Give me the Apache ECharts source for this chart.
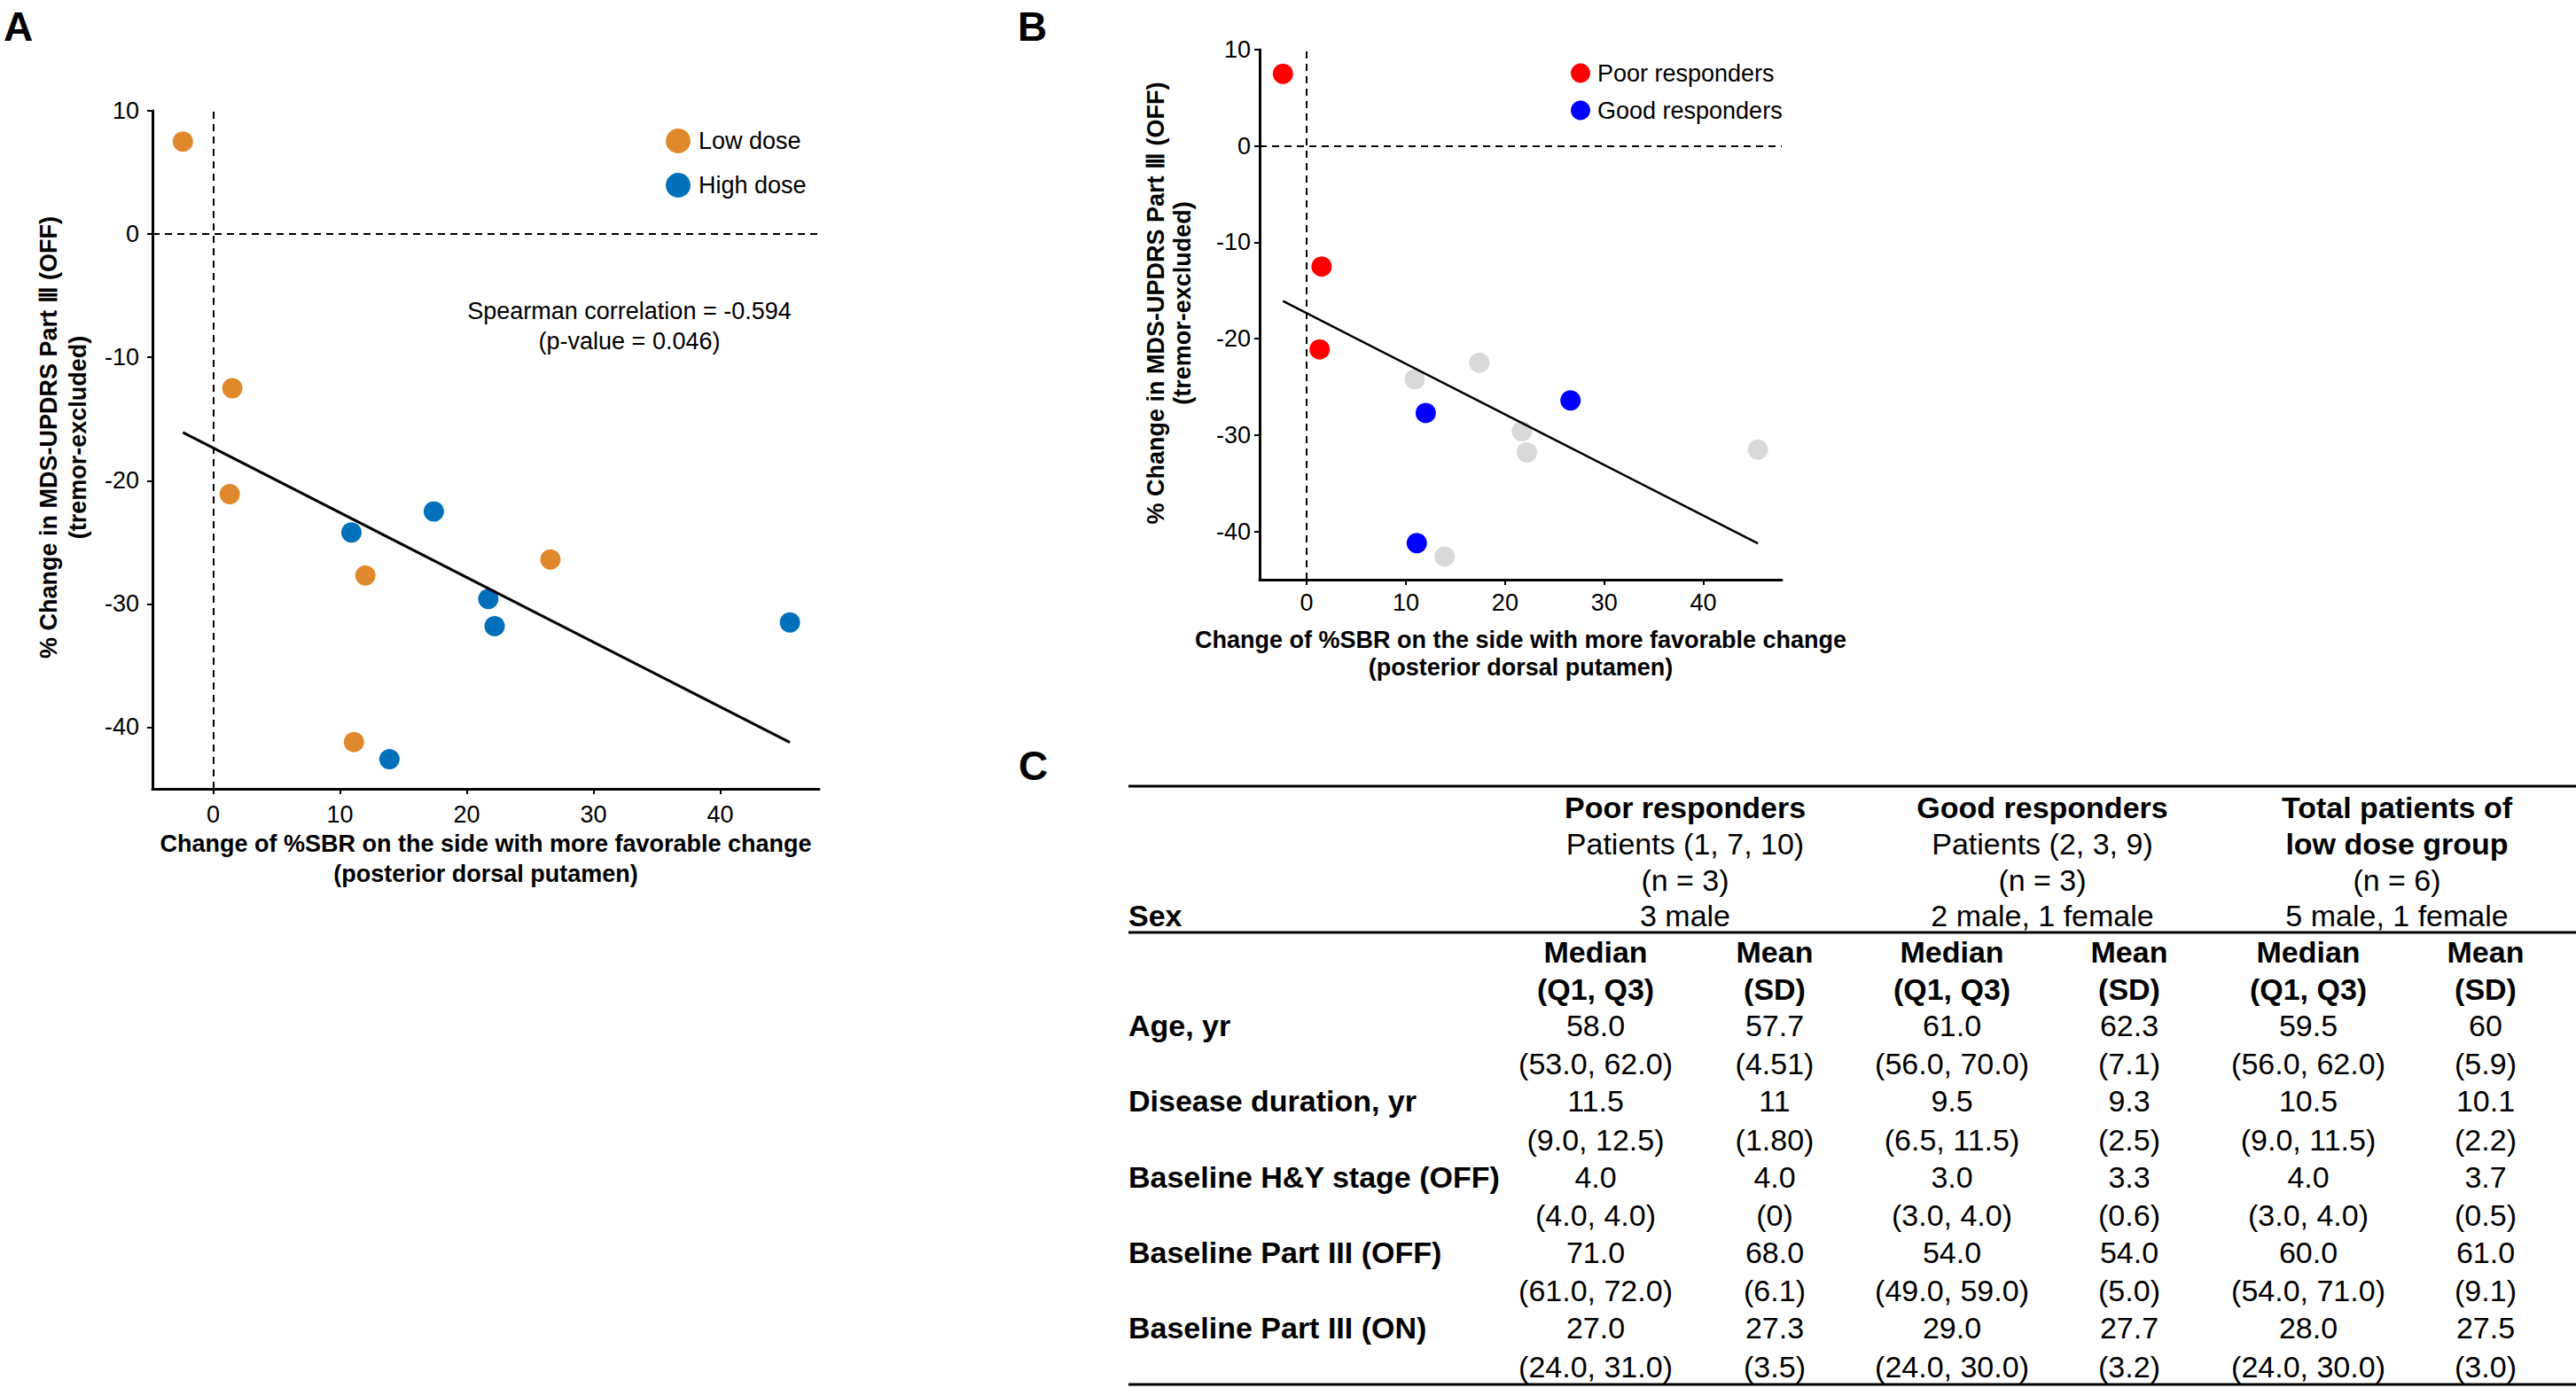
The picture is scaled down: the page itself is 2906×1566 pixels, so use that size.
<!DOCTYPE html>
<html>
<head>
<meta charset="utf-8">
<script src="https://cdn.jsdelivr.net/npm/echarts@6.0.0/dist/echarts.min.js"></script>
<style>
html,body{margin:0;padding:0;background:#fff;}
#chart{width:2906px;height:1566px;}
</style>
</head>
<body>
<div id="chart"></div>
<script>
// ---------------- data ----------------
const lowDoseX  = [-2.4, 1.5, 1.3, 12.0, 26.6, 11.1];
const lowDoseY  = [7.5, -12.5, -21.1, -27.7, -26.4, -41.2];
const highDoseX = [10.9, 17.4, 21.7, 22.2, 45.5, 13.9];
const highDoseY = [-24.2, -22.5, -29.6, -31.8, -31.5, -42.6];
// panel B: low-dose patients split into responder groups (indices into low dose arrays)
const poorIdx = [0, 1, 2];
const goodIdx = [3, 4, 5];

const xTicks = [0, 10, 20, 30, 40];
const yTicks = [-40, -30, -20, -10, 0, 10];

const spearmanText = ['Spearman correlation = -0.594', '(p-value = 0.046)'];

// ---------------- table data ----------------
const groupTitle    = [['Poor responders'], ['Good responders'], ['Total patients of', 'low dose group']];
const groupPatients = ['Patients (1, 7, 10)', 'Patients (2, 3, 9)', null];
const groupN        = ['(n = 3)', '(n = 3)', '(n = 6)'];
const groupSex      = ['3 male', '2 male, 1 female', '5 male, 1 female'];
const statHead      = [['Median', '(Q1, Q3)'], ['Mean', '(SD)']];
const rowLabels     = ['Age, yr', 'Disease duration, yr', 'Baseline H&Y stage (OFF)', 'Baseline Part III (OFF)', 'Baseline Part III (ON)'];
const medianVals = [
  ['58.0', '61.0', '59.5'],
  ['11.5', '9.5', '10.5'],
  ['4.0', '3.0', '4.0'],
  ['71.0', '54.0', '60.0'],
  ['27.0', '29.0', '28.0']
];
const quartileVals = [
  ['(53.0, 62.0)', '(56.0, 70.0)', '(56.0, 62.0)'],
  ['(9.0, 12.5)', '(6.5, 11.5)', '(9.0, 11.5)'],
  ['(4.0, 4.0)', '(3.0, 4.0)', '(3.0, 4.0)'],
  ['(61.0, 72.0)', '(49.0, 59.0)', '(54.0, 71.0)'],
  ['(24.0, 31.0)', '(24.0, 30.0)', '(24.0, 30.0)']
];
const meanVals = [
  ['57.7', '62.3', '60'],
  ['11', '9.3', '10.1'],
  ['4.0', '3.3', '3.7'],
  ['68.0', '54.0', '61.0'],
  ['27.3', '27.7', '27.5']
];
const sdVals = [
  ['(4.51)', '(7.1)', '(5.9)'],
  ['(1.80)', '(2.5)', '(2.2)'],
  ['(0)', '(0.6)', '(0.5)'],
  ['(6.1)', '(5.0)', '(9.1)'],
  ['(3.5)', '(3.2)', '(3.0)']
];

// ---------------- helpers ----------------
const FONT = "'Liberation Sans', Arial, Helvetica, sans-serif";
const zip = (xs, ys) => xs.map((x, i) => [x, ys[i]]);
function fitLine(xs, ys) {
  const n = xs.length;
  const mx = xs.reduce((a, b) => a + b, 0) / n;
  const my = ys.reduce((a, b) => a + b, 0) / n;
  let sxy = 0, sxx = 0;
  for (let i = 0; i < n; i++) { sxy += (xs[i] - mx) * (ys[i] - my); sxx += (xs[i] - mx) ** 2; }
  const b = sxy / sxx, a = my - b * mx;
  const x0 = Math.min(...xs), x1 = Math.max(...xs);
  return [[x0, a + b * x0], [x1, a + b * x1]];
}
const allX = lowDoseX.concat(highDoseX);
const allY = lowDoseY.concat(highDoseY);
const fit = fitLine(allX, allY);

const xTitle = 'Change of %SBR on the side with more favorable change\n(posterior dorsal putamen)';
const yTitle = '% Change in MDS-UPDRS Part \u2162 (OFF)\n(tremor-excluded)';

function xAxisCfg(gi, min, max, labelMargin, nameGap, lh) {
  return {
    type: 'value', gridIndex: gi, min: min, max: max,
    splitLine: { show: false },
    axisLine: { onZero: false, lineStyle: { color: '#000', width: 3 } },
    axisTick: { show: true, length: 6, lineStyle: { color: '#000', width: 2 }, customValues: xTicks },
    axisLabel: { customValues: xTicks, fontSize: 27, color: '#000', margin: labelMargin, fontFamily: FONT },
    name: xTitle, nameLocation: 'middle', nameGap: nameGap,
    nameTextStyle: { fontSize: 27, fontWeight: 'bold', color: '#000', lineHeight: lh, fontFamily: FONT }
  };
}
function yAxisCfg(gi, min, max, labelMargin, nameGap, lh, shift) {
  return {
    type: 'value', gridIndex: gi, min: min, max: max,
    splitLine: { show: false },
    axisLine: { onZero: false, lineStyle: { color: '#000', width: 3 } },
    axisTick: { show: true, length: 6, lineStyle: { color: '#000', width: 2 }, customValues: yTicks },
    axisLabel: { customValues: yTicks, fontSize: 27, color: '#000', margin: labelMargin, fontFamily: FONT },
    name: yTitle, nameLocation: 'middle', nameGap: nameGap, nameRotate: 90,
    nameTextStyle: { fontSize: 27, fontWeight: 'bold', color: '#000', lineHeight: lh, fontFamily: FONT, padding: [0, 0, 0, shift] }
  };
}
function refLines(width) {
  return {
    silent: true, symbol: ['none', 'none'], label: { show: false },
    lineStyle: { color: '#000', type: [8, 6], width: width },
    emphasis: { disabled: true },
    data: [{ xAxis: 0 }, { yAxis: 0 }]
  };
}
function scatter(name, data, color, gi) {
  return {
    type: 'scatter', name: name, data: data, xAxisIndex: gi, yAxisIndex: gi,
    symbol: 'circle', symbolSize: 23, z: 2,
    itemStyle: { color: color, opacity: 1 }
  };
}

// ---------------- table graphics ----------------
const graphics = [];
function txt(s, x, y, bold, align, size, lh) {
  const style = { text: s, fill: '#000', fontSize: size || 34, fontWeight: bold ? 'bold' : 'normal',
                  fontFamily: FONT, align: align || 'center', verticalAlign: 'middle' };
  if (lh) style.lineHeight = lh;
  graphics.push({ type: 'text', x: x, y: y, silent: true, style: style });
}
function rule(y, x1, x2) {
  graphics.push({ type: 'line', silent: true, shape: { x1: x1, y1: y, x2: x2, y2: y },
                  style: { stroke: '#000', lineWidth: 3 } });
}
// panel letters
txt('A', 4, 30, true, 'left', 46, 40);
txt('B', 1148, 30, true, 'left', 46, 40);
txt('C', 1149, 864, true, 'left', 46, 40);
// spearman annotation
txt(spearmanText[0], 710, 351, false, 'center', 27);
txt(spearmanText[1], 710, 385, false, 'center', 27);

const TL = 1273, TR = 2906;
const groupX = [1901, 2304, 2704];
const subX = [1800, 2002, 2202, 2402, 2604, 2804];
const headY = [911, 952, 993, 1033];
rule(887, TL, TR);
rule(1052, TL, TR);
rule(1562, TL, TR);
groupTitle.forEach((t, g) => {
  txt(t[0], groupX[g], headY[0], true);
  if (t[1]) txt(t[1], groupX[g], headY[1], true);
  if (groupPatients[g]) txt(groupPatients[g], groupX[g], headY[1], false);
  txt(groupN[g], groupX[g], headY[2], false);
  txt(groupSex[g], groupX[g], headY[3], false);
});
txt('Sex', TL, headY[3], true, 'left');
const statY = [1074, 1116];
for (let g = 0; g < 3; g++) {
  statHead.forEach((h, k) => {
    txt(h[0], subX[g * 2 + k], statY[0], true);
    txt(h[1], subX[g * 2 + k], statY[1], true);
  });
}
rowLabels.forEach((lab, r) => {
  const y1 = 1157 + r * 85.3, y2 = y1 + 43.4;
  txt(lab, TL, y1, true, 'left');
  for (let g = 0; g < 3; g++) {
    txt(medianVals[r][g], subX[g * 2], y1, false);
    txt(quartileVals[r][g], subX[g * 2], y2, false);
    txt(meanVals[r][g], subX[g * 2 + 1], y1, false);
    txt(sdVals[r][g], subX[g * 2 + 1], y2, false);
  }
});

// ---------------- chart ----------------
const chart = echarts.init(document.getElementById('chart'), null, { renderer: 'svg' });
const option = {
  backgroundColor: '#fff',
  animation: false,
  textStyle: { fontFamily: FONT },
  grid: [
    { left: 172, top: 125, width: 752, height: 765, containLabel: false },
    { left: 1421, top: 56, width: 589, height: 598, containLabel: false }
  ],
  xAxis: [
    xAxisCfg(0, -4.8, 47.8, 15, 45, 34),
    xAxisCfg(1, -4.75, 47.9, 12, 52, 31)
  ],
  yAxis: [
    yAxisCfg(0, -45, 10, 15, 68, 33, 28),
    yAxisCfg(1, -45, 10, 10, 72, 30, 26)
  ],
  legend: [
    { data: ['Low dose', 'High dose'], orient: 'vertical', left: 746, top: 140,
      itemWidth: 28, itemHeight: 28, itemGap: 22, icon: 'circle', selectedMode: false,
      textStyle: { fontSize: 27, color: '#000', fontFamily: FONT, lineHeight: 28, padding: [0, 0, 0, 4] } },
    { data: ['Poor responders', 'Good responders'], orient: 'vertical', left: 1767, top: 64,
      itemWidth: 22, itemHeight: 22, itemGap: 15, icon: 'circle', selectedMode: false,
      textStyle: { fontSize: 27, color: '#000', fontFamily: FONT, lineHeight: 22, padding: [0, 0, 0, 3] } }
  ],
  series: [
    scatter('Low dose', zip(lowDoseX, lowDoseY), '#E0892C', 0),
    scatter('High dose', zip(highDoseX, highDoseY), '#0070BB', 0),
    { type: 'line', name: 'fitA', data: fit, xAxisIndex: 0, yAxisIndex: 0, symbol: 'none', z: 3,
      silent: true, lineStyle: { color: '#000', width: 3 }, markLine: refLines(2) },
    scatter('High dose patients', zip(highDoseX, highDoseY), '#D9D9D9', 1),
    scatter('Poor responders', poorIdx.map(i => [lowDoseX[i], lowDoseY[i]]), '#FF0000', 1),
    scatter('Good responders', goodIdx.map(i => [lowDoseX[i], lowDoseY[i]]), '#0000FF', 1),
    { type: 'line', name: 'fitB', data: fit, xAxisIndex: 1, yAxisIndex: 1, symbol: 'none', z: 3,
      silent: true, lineStyle: { color: '#000', width: 2.5 }, markLine: refLines(2) }
  ],
  graphic: graphics
};
chart.setOption(option);
</script>
</body>
</html>
